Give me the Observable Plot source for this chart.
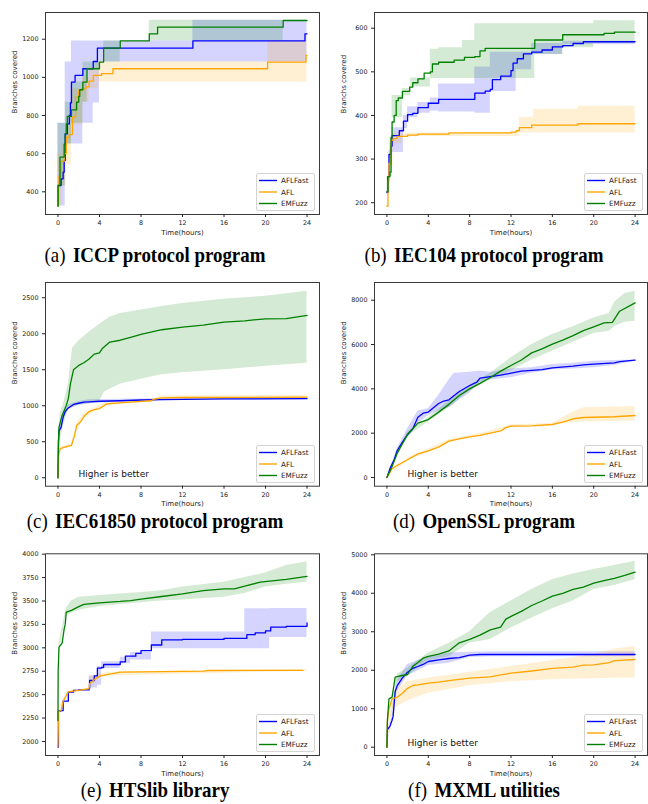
<!DOCTYPE html>
<html><head><meta charset="utf-8">
<script src="https://cdn.jsdelivr.net/npm/d3@7"></script>
<script src="https://cdn.jsdelivr.net/npm/@observablehq/plot@0.6"></script>
<style>
body{margin:0;background:#fff;width:648px;height:804px;position:relative;overflow:hidden}
.panel{position:absolute}
.cap{position:absolute;font-family:"Liberation Serif","Times New Roman",serif;font-size:21px;line-height:22px;color:#000;white-space:nowrap;transform:translateX(-50%) scaleX(0.9)}
.cap .lab{margin-right:3px}
.leg{position:absolute;width:57px;height:36px;border:1px solid #d4d4d4;border-radius:2px;background:rgba(255,255,255,0.85);font-family:"DejaVu Sans",sans-serif;font-size:7.2px;color:#222}
.leg svg{position:absolute;left:0;top:0}
</style></head>
<body>
<script>
// ---------- shared ----------
const seriesNames = ["AFLFast", "AFL", "EMFuzz"];
const seriesColors = ["#0000ff", "#ffa500", "#008000"];
const xTicks = [0, 4, 8, 12, 16, 20, 24];

// ---------- (a) ICCP : rows [t, value] / bands [t, low, high] ----------
const iccpAFLFast = [[0,325],[0.02,433],[0.3,468],[0.5,503],[0.6,564],[0.7,704],[0.9,756],[1.1,800],[1.2,866],[1.3,975],[1.65,1010],[2.4,1045],[3.4,1083],[3.8,1153],[13,1191],[23.8,1228],[24,1228]];
const iccpAFL = [[0,325],[0.05,430],[0.1,480],[0.3,560],[0.6,600],[0.8,686],[1.1,700],[1.4,791],[1.7,896],[2.0,930],[2.3,940],[2.7,950],[3.0,980],[3.4,1010],[4.2,1020],[5.3,1045],[20.2,1080],[23.9,1115],[24,1115]];
const iccpEMFuzz = [[0,325],[0.02,433],[0.2,582],[0.6,650],[0.7,704],[0.8,756],[0.9,795],[1.3,830],[1.8,870],[2.0,900],[2.1,935],[2.4,975],[2.8,1045],[4.0,1080],[4.4,1153],[6.0,1191],[8.8,1228],[9.6,1263],[21.7,1298],[24,1298]];
const iccpAFLFastBand = [[0,325,760],[0.7,650,1080],[1.3,650,1190],[2.4,760,1190],[3.4,865,1190],[4.0,1080,1190],[13,1080,1300],[24,1080,1300]];
const iccpAFLBand = [[0,325,600],[0.4,430,650],[0.8,540,760],[1.3,750,940],[2.4,870,1000],[3.0,940,1050],[3.9,975,1080],[20.2,975,1190],[24,975,1190]];
const iccpEMFuzzBand = [[0,430,760],[0.7,650,870],[1.3,760,975],[2.4,870,1080],[2.8,1045,1080],[4.0,1080,1080],[4.4,1080,1190],[6.0,1190,1190],[8.8,1190,1300],[21.7,1298,1298],[24,1298,1298]];

// ---------- (b) IEC104 ----------
const iec104AFLFast = [[0,224],[0.1,260],[0.2,311],[0.4,330],[0.5,354],[1.2,365],[1.6,387],[2.0,402],[2.5,405],[3.0,418],[4,428],[5,437],[8.5,451],[9.5,456],[10,460],[10.2,482],[11,490],[12,503],[12.2,520],[12.6,530],[13.2,541],[14,545],[15,550],[16,557],[17,560],[18,565],[19,569],[24,569]];
const iec104AFL = [[0,192],[0.1,250],[0.2,290],[0.4,343],[0.6,347],[1,352],[2,355],[3,357],[6,360],[12,362],[12.5,365],[12.8,372],[14,378],[18.5,381],[24,381]];
const iec104EMFuzz = [[0,225],[0.1,260],[0.3,270],[0.4,350],[0.5,385],[0.7,400],[0.9,434],[1.1,440],[1.5,455],[2.2,465],[2.5,475],[3,484],[3.6,497],[4.2,500],[4.4,518],[5,522],[6.5,527],[7.5,533],[8.5,535],[9,548],[9.5,554],[14.3,573],[17,585],[21,588],[22,591],[24,591]];
const iec104AFLFastBand = [[0,224,230],[0.2,300,320],[0.5,315,372],[1.6,370,400],[2.0,395,420],[3.0,405,430],[4.2,410,440],[5.0,408,472],[8.5,405,511],[10.0,455,545],[12.5,505,545],[14.0,540,565],[17.0,562,570],[24,565,570]];
const iec104AFLBand = [[0,190,195],[0.3,280,340],[0.6,335,360],[1.5,352,360],[12.8,360,396],[14.2,360,414],[18.5,360,421],[24,360,421]];
const iec104EMFuzzBand = [[0,220,260],[0.3,260,350],[0.5,395,446],[1.5,445,462],[2.3,465,486],[4.2,485,552],[5.0,485,555],[7.3,485,572],[8.5,485,610],[14.3,540,610],[17,555,610],[20,565,617],[24,565,617]];

// ---------- (c) IEC61850 ----------
const iec61850AFLFast = [[0,0],[0.05,500],[0.1,648],[0.3,700],[0.5,843],[0.7,921],[1,970],[1.5,1018],[2,1035],[2.5,1051],[3,1055],[4,1063],[6,1070],[8,1080],[10,1085],[12,1090],[16,1095],[24,1100]];
const iec61850AFL = [[0,0],[0.05,300],[0.2,403],[0.5,420],[1,440],[1.3,449],[1.6,588],[1.8,727],[2.2,782],[2.6,866],[3,920],[3.5,945],[4,960],[4.6,1018],[5,1030],[6,1040],[8,1060],[9,1070],[9.2,1090],[10,1111],[12,1115],[24,1120]];
const iec61850EMFuzz = [[0,0],[0.05,500],[0.1,704],[0.4,866],[0.8,1005],[1,1100],[1.2,1305],[1.5,1500],[2,1560],[2.5,1597],[3,1650],[3.5,1717],[4,1736],[4.3,1800],[5,1884],[6,1910],[7,1950],[8,1991],[10,2056],[12,2093],[14,2120],[16,2162],[18,2180],[20,2208],[22,2210],[24,2255]];
const iec61850AFLFastBand = [[0,0,0],[0.1,600,700],[0.5,800,900],[1,940,1010],[2,1010,1060],[3,1025,1085],[4,1040,1088],[8,1065,1095],[12,1075,1105],[24,1085,1115]];
const iec61850AFLBand = [[0,0,0],[0.2,380,420],[1.3,430,470],[1.6,560,620],[2,700,800],[2.6,830,900],[3.5,910,970],[4.6,990,1050],[6,1020,1060],[9,1050,1090],[10,1090,1135],[24,1095,1145]];
const iec61850EMFuzzBand = [[0,0,0],[0.2,500,900],[0.5,700,1000],[1,950,1300],[1.4,980,1800],[2,1000,1900],[3,1030,2020],[4,1060,2130],[4.5,1190,2180],[5,1230,2230],[6,1300,2280],[8,1370,2330],[10,1430,2380],[12,1460,2420],[16,1500,2480],[20,1550,2520],[24,1590,2590]];

// ---------- (d) OpenSSL ----------
const opensslAFLFast = [[0,0],[0.3,400],[0.7,800],[1,1218],[1.5,1600],[2,1940],[2.5,2200],[3,2722],[3.5,2902],[4,2950],[4.5,3150],[5,3338],[5.5,3450],[6,3504],[6.5,3700],[7,3880],[8,4150],[8.7,4300],[9,4481],[10,4550],[11,4620],[12,4707],[13,4797],[15,4870],[16,4950],[18,5022],[19,5080],[20,5120],[22,5173],[22.5,5230],[24,5293]];
const opensslAFL = [[0,0],[0.5,391],[1,550],[2,800],[3,1068],[4,1200],[5,1368],[6,1639],[7,1744],[8,1830],[9,1900],[10,2000],[11,2100],[11.5,2250],[12,2316],[14,2330],[16,2391],[17,2500],[18,2650],[19,2707],[22,2740],[24,2797]];
const opensslEMFuzz = [[0,0],[0.5,500],[1,1100],[2,1950],[3,2451],[4,2616],[5,2950],[6,3300],[7,3699],[8,4000],[9,4250],[10,4511],[11,4800],[12,5052],[13,5300],[14,5624],[15,5800],[16,6015],[17,6200],[18,6400],[19,6631],[20,6800],[21,6977],[21.8,7000],[22.5,7504],[24,7880]];
const opensslAFLFastBand = [[0,0,0],[1,1100,1300],[2,1750,2200],[3,2400,3000],[4,2800,3100],[5,3000,3700],[6,3150,4400],[6.5,3300,4700],[7,3500,4720],[8,3800,4750],[9,4300,4800],[10,4400,4750],[12,4500,4900],[14,4700,4950],[16,4850,5100],[18,4900,5150],[20,4950,5250],[22,5050,5280],[24,5250,5300]];
const opensslAFLBand = [[0,0,0],[2,750,880],[4,1120,1280],[6,1580,1720],[8,1780,1900],[10,1950,2100],[12,2250,2380],[14,2300,2400],[16,2380,2450],[17,2420,2700],[18,2480,2950],[19,2500,3150],[24,2550,3200]];
const opensslEMFuzzBand = [[0,0,0],[2,1850,2050],[4,2500,2700],[6,3150,3450],[8,3900,4150],[10,4400,4700],[12,4800,5400],[14,5300,6000],[16,5700,6450],[18,6100,6800],[20,6500,7200],[21.5,6600,7400],[22,6800,7900],[23,7000,8300],[24,7050,8400]];

// ---------- (e) HTSlib ----------
const htslibAFLFast = [[0,1940],[0.05,2325],[0.3,2330],[0.5,2430],[1,2527],[1.5,2545],[2,2550],[3,2565],[3.05,2651],[3.5,2700],[3.8,2783],[4.2,2790],[4.4,2822],[5.5,2822],[6,2850],[6.5,2911],[7.5,2940],[8,2971],[9,3030],[10,3085],[12,3090],[16,3100],[18,3100],[18.2,3140],[19,3160],[20,3180],[20.5,3221],[22,3230],[24,3267]];
const htslibAFL = [[0,1940],[0.05,2320],[0.3,2330],[0.5,2430],[1,2530],[2,2545],[3,2565],[3.05,2620],[3.5,2660],[4,2697],[5,2720],[6,2740],[10,2745],[14,2750],[14.5,2758],[23.6,2760]];
const htslibEMFuzz = [[0,2224],[0.02,2750],[0.1,3007],[0.4,3050],[0.6,3203],[0.7,3250],[0.8,3381],[1.3,3400],[2,3440],[2.5,3463],[4,3480],[6,3495],[7,3505],[8,3520],[10,3548],[12,3575],[14,3610],[16,3630],[17,3630],[18,3660],[19.5,3701],[22,3730],[24,3762]];
const htslibAFLFastBand = [[3.0,2570,2700],[3.8,2600,2800],[4.2,2780,2850],[6,2830,2900],[7,2870,2950],[9,2990,3170],[18,2990,3416],[20.4,3110,3420],[24,3110,3420]];
const htslibAFLBand = [[0,1940,1940],[0.05,2300,2340],[1,2520,2540],[3.0,2560,2570],[3.05,2560,2700],[4,2680,2720],[5,2700,2740],[24,2750,2770]];
const htslibEMFuzzBand = [[0,2230,2230],[0.1,2950,3050],[0.8,3340,3420],[1.3,3370,3500],[2,3400,3540],[4,3440,3560],[8,3480,3590],[10,3500,3610],[12,3510,3650],[16,3540,3700],[18,3580,3750],[20,3650,3800],[22,3680,3880],[24,3700,3920]];

// ---------- (f) MXML ----------
const mxmlAFLFast = [[0,0],[0.05,459],[0.3,550],[0.5,700],[0.6,800],[0.8,1447],[1,1600],[1.5,1800],[2,1950],[2.5,2050],[3,2097],[3.5,2150],[4,2227],[5,2270],[6,2305],[7,2330],[8,2392],[9,2409],[24,2409]];
const mxmlAFL = [[0,0],[0.05,700],[0.2,1000],[0.5,1257],[1,1300],[1.5,1400],[2,1530],[2.5,1603],[3,1620],[4,1664],[5,1690],[6,1730],[7,1760],[8,1794],[10,1830],[11,1880],[12,1924],[14,1980],[16,2050],[18,2080],[19,2132],[20,2140],[21,2180],[21.5,2200],[22,2250],[24,2279]];
const mxmlEMFuzz = [[0,0],[0.05,700],[0.2,1257],[0.5,1300],[0.8,1820],[1.2,1850],[2,1889],[2.5,2100],[3,2200],[3.5,2314],[4,2360],[5,2420],[6,2500],[7,2712],[8,2800],[9,2912],[10,3050],[11,3120],[11.5,3328],[12,3400],[13,3530],[14,3683],[15,3800],[16,3925],[17,4000],[18,4100],[19,4160],[20,4263],[21,4330],[22,4390],[23,4463],[24,4549]];
const mxmlAFLFastBand = [[0,0,0],[0.5,650,800],[1,1450,1750],[2,1850,2150],[3,1980,2250],[4,2120,2350],[6,2180,2450],[8,2330,2470],[10,2350,2480],[24,2350,2480]];
const mxmlAFLBand = [[0,0,0],[0.5,950,1350],[1,1050,1500],[2,1200,1700],[4,1400,1800],[6,1500,1870],[8,1600,1950],[12,1700,2100],[16,1750,2250],[20,1780,2400],[22,1790,2550],[24,1800,2620]];
const mxmlEMFuzzBand = [[0,0,0],[1,1700,1900],[2,1850,2050],[4,2250,2450],[6,2350,2700],[8,2700,3000],[10,2800,3500],[11,2950,3650],[12,3100,3800],[14,3350,4100],[16,3600,4350],[18,3800,4500],[20,4100,4620],[22,4200,4720],[24,4350,4830]];

// ---------- panel definitions (layout only) ----------
const panels = [
  {left:0, top:0, h:240, mt:12, mb:26, ml:45, mr:5, yDomain:[281,1340], yTicks:[400,600,800,1000,1200], ylabel:"Branches covered", step:true,
   lines:[iccpAFLFast, iccpAFL, iccpEMFuzz], bands:[iccpAFLFastBand, iccpAFLBand, iccpEMFuzzBand], note:false,
   cap:["(a)","ICCP protocol program"], capX:155, capY:244},
  {left:324, top:0, h:240, mt:12, mb:26, ml:50, mr:1, yDomain:[173,636], yTicks:[200,300,400,500,600], ylabel:"Branchs covered", step:true,
   lines:[iec104AFLFast, iec104AFL, iec104EMFuzz], bands:[iec104AFLFastBand, iec104AFLBand, iec104EMFuzzBand], note:false,
   cap:["(b)","IEC104 protocol program"], capX:484, capY:244},
  {left:0, top:265, h:245, mt:17, mb:24.3, ml:45, mr:5, yDomain:[-117,2712], yTicks:[0,500,1000,1500,2000,2500], ylabel:"Branches covered", step:false,
   lines:[iec61850AFLFast, iec61850AFL, iec61850EMFuzz], bands:[iec61850AFLFastBand, iec61850AFLBand, iec61850EMFuzzBand], note:true,
   cap:["(c)","IEC61850 protocol program"], capX:155, capY:510},
  {left:324, top:265, h:245, mt:17, mb:24.3, ml:50, mr:1, yDomain:[-393,8799], yTicks:[0,2000,4000,6000,8000], ylabel:"Branches covered", step:false,
   lines:[opensslAFLFast, opensslAFL, opensslEMFuzz], bands:[opensslAFLFastBand, opensslAFLBand, opensslEMFuzzBand], note:true,
   cap:["(d)","OpenSSL program"], capX:484, capY:510},
  {left:0, top:530, h:250, mt:23.3, mb:25, ml:45, mr:5, yDomain:[1850,4004], yTicks:[2000,2250,2500,2750,3000,3250,3500,3750,4000], ylabel:"Branches covered", step:false,
   lines:[htslibAFLFast, htslibAFL, htslibEMFuzz], bands:[htslibAFLFastBand, htslibAFLBand, htslibEMFuzzBand], note:false, stepBand:[true,false,false],
   cap:["(e)","HTSlib library"], capX:155, capY:779},
  {left:324, top:530, h:250, mt:23.3, mb:25, ml:50, mr:1, yDomain:[-216,5026], yTicks:[0,1000,2000,3000,4000,5000], ylabel:"Branches covered", step:false,
   lines:[mxmlAFLFast, mxmlAFL, mxmlEMFuzz], bands:[mxmlAFLFastBand, mxmlAFLBand, mxmlEMFuzzBand], note:true,
   cap:["(f)","MXML utilities"], capX:484, capY:779}
];

for (const p of panels) {
  const marks = [];
  p.bands.forEach((b, i) => {
    const st = p.stepBand ? p.stepBand[i] : p.step;
    marks.push(Plot.areaY(b, {x: d => d[0], y1: d => d[1], y2: d => d[2], fill: seriesColors[i], fillOpacity: 0.17, curve: st ? "step-after" : "linear"}));
  });
  p.lines.forEach((l, i) => {
    const st = p.stepBand ? p.stepBand[i] : p.step;
    marks.push(Plot.line(l, {x: d => d[0], y: d => d[1], stroke: seriesColors[i], strokeWidth: 1.3, curve: st ? "step-after" : "linear"}));
  });
  marks.push(Plot.frame({stroke: "#3a3a3a", strokeWidth: 1}));
  marks.push(Plot.axisX({ticks: xTicks, tickSize: 3, tickPadding: 3, fontSize: 6.4, label: null, tickFormat: d => String(d)}));
  marks.push(Plot.axisY({ticks: p.yTicks, tickSize: 3, tickPadding: 4, fontSize: 6.4, label: null, tickFormat: d => String(d)}));
  marks.push(Plot.text(["Time(hours)"], {text: d => d, frameAnchor: "bottom", dy: 20, fontSize: 7, fill: "#222"}));
  marks.push(Plot.text([p.ylabel], {text: d => d, frameAnchor: "left", dx: -31, rotate: -90, fontSize: 7, fill: "#222"}));
  if (p.note) marks.push(Plot.text(["Higher is better"], {text: d => d, frameAnchor: "bottom-left", textAnchor: "start", lineAnchor: "middle", dx: 33, dy: -12, fontSize: 9, fill: "#111"}));

  const chart = Plot.plot({
    width: 324, height: p.h,
    marginTop: p.mt, marginBottom: p.mb, marginLeft: p.ml, marginRight: p.mr,
    x: {domain: [-1.2, 25.2]},
    y: {domain: p.yDomain},
    style: {background: "transparent", color: "#222", fontFamily: "DejaVu Sans, sans-serif", overflow: "visible"},
    marks
  });
  const div = document.createElement("div");
  div.className = "panel";
  div.style.left = p.left + "px";
  div.style.top = p.top + "px";
  div.appendChild(chart);
  document.body.appendChild(div);

  // legend (bottom-right inside frame)
  const frameRight = p.left + 324 - p.mr;
  const frameBottom = p.top + p.h - p.mb;
  const leg = document.createElement("div");
  leg.className = "leg";
  leg.style.left = Math.round(frameRight - 63) + "px";
  leg.style.top = Math.round(frameBottom - 41) + "px";
  let svg = `<svg width="57" height="36" font-family="DejaVu Sans, sans-serif" font-size="7.2" fill="#222">`;
  seriesNames.forEach((n, i) => {
    const cy = 6.5 + i * 11.5;
    svg += `<line x1="2" x2="20" y1="${cy}" y2="${cy}" stroke="${seriesColors[i]}" stroke-width="1.4"/>`;
    svg += `<text x="24" y="${cy}" dy="0.35em">${n}</text>`;
  });
  svg += `</svg>`;
  leg.innerHTML = svg;
  document.body.appendChild(leg);

  const cap = document.createElement("div");
  cap.className = "cap";
  cap.style.left = p.capX + "px";
  cap.style.top = p.capY + "px";
  cap.innerHTML = `<span class="lab">${p.cap[0]}</span> <b>${p.cap[1]}</b>`;
  document.body.appendChild(cap);
}
</script>
</body></html>
